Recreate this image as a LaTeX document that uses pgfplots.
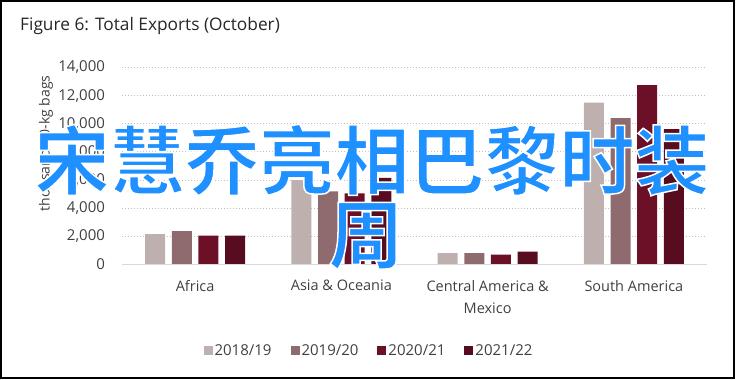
\documentclass[border=0pt]{standalone}
\usepackage{pgfplots}
\pgfplotsset{compat=1.18}
\usepackage{fontspec}
\setmainfont{Open Sans}
\newfontfamily\cjk{Noto Sans CJK SC}[BoldFont={Noto Sans CJK SC Bold}]
\definecolor{cA}{RGB}{191,176,176}
\definecolor{cB}{RGB}{143,106,110}
\definecolor{cC}{RGB}{108,16,40}
\definecolor{cD}{RGB}{88,12,32}
\definecolor{txt}{RGB}{64,64,64}
\definecolor{ttl}{RGB}{38,38,38}
\definecolor{grd}{RGB}{191,191,191}
\definecolor{axl}{RGB}{217,217,217}
\definecolor{ovl}{RGB}{30,144,255}
\begin{document}
\begin{tikzpicture}
\path[use as bounding box] (0,0) rectangle (736pt,380pt);
\draw[black, line width=2pt] (1pt,2.3pt) rectangle (734pt,379pt);
\node[anchor=base west, text=ttl, font=\fontsize{17.3}{20}\selectfont, inner sep=0pt] at (20pt,349pt) {Figure 6: Total Exports (October)};
\begin{axis}[
  at={(122pt,115.5pt)}, anchor=south west,
  scale only axis, width=585pt, height=197pt,
  xmin=-0.5, xmax=3.5, ymin=0, ymax=14000,
  axis line style={draw=none},
  major tick length=0pt,
  ytick={0,2000,...,14000},
  xtick={0,1,2,3},
  xticklabels={Africa,Asia \& Oceania,{Central America \&\\Mexico},South America},
  xticklabel style={align=center, text=txt, font=\fontsize{14.5}{22}\selectfont, anchor=north, yshift=-12pt},
  yticklabel style={text=txt, font=\fontsize{15}{17}\selectfont, anchor=east, xshift=-13.5pt},
  scaled y ticks=false,
  /pgf/number format/1000 sep={,},
  /pgf/number format/assume math mode=true,
  ymajorgrids,
  grid style={color=grd, line width=1pt, dash pattern=on 1pt off 2pt},
  ybar, bar width=20pt,
  legend style={at={(0.4222,-0.4376)}, anchor=center, draw=none, fill=none,
    legend columns=4, font=\fontsize{15}{17}\selectfont, text=txt,
    /tikz/every even column/.append style={column sep=17pt}},
  legend image code/.code={\draw[#1,draw=none] (0pt,-4.5pt) rectangle (9pt,4.5pt);},
]
\addplot[fill=cA, draw=none, bar shift=-40pt] coordinates {(0,2150) (1,6000) (2,800) (3,11500)};
\addplot[fill=cB, draw=none, bar shift=-13.33pt] coordinates {(0,2380) (1,5200) (2,800) (3,10400)};
\addplot[fill=cC, draw=none, bar shift=13.33pt] coordinates {(0,2060) (1,5050) (2,710) (3,12750)};
\addplot[fill=cD, draw=none, bar shift=40pt] coordinates {(0,2060) (1,6150) (2,920) (3,9620)};
\draw[color=axl, line width=1.2pt] (axis cs:-0.5,0) -- (axis cs:3.5,0);
\legend{2018/19,2019/20,2020/21,2021/22}
\end{axis}
\node[rotate=90, text=txt, font=\fontsize{14}{16}\selectfont] at (46pt,236.5pt) {thousand 60-kg bags};
\node[text=ovl, font=\cjk\bfseries\fontsize{75}{80}\selectfont, inner sep=0pt] at (372pt,220pt) {\special{pdf:code 2 Tr 1.5 w 1 1 1 RG}宋慧乔亮相巴黎时装};
\node[text=ovl, font=\cjk\bfseries\fontsize{75}{80}\selectfont, inner sep=0pt] at (366pt,144pt) {\special{pdf:code 2 Tr 1.5 w 1 1 1 RG}周};
\end{tikzpicture}
\end{document}
